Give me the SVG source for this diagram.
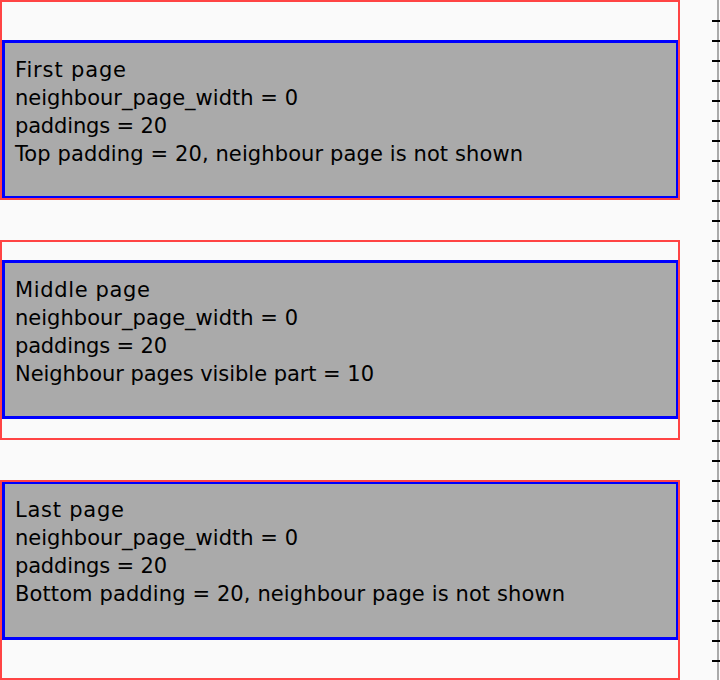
<svg xmlns="http://www.w3.org/2000/svg" width="720" height="680" viewBox="0 0 720 680">
  <style>
    .page { fill: none; stroke: #ff4444; stroke-width: 2; }
    .content { fill: #aaaaaa; stroke: #0000ff; stroke-width: 3; }
    .label { font-family: "DejaVu Sans", "Noto Sans", sans-serif; font-size: 21px; fill: #000000; }
  </style>
  <defs>
    <pattern id="ticks" x="0" y="0" width="8" height="20" patternUnits="userSpaceOnUse">
      <rect x="0" y="0" width="8" height="2" fill="#000000"/>
    </pattern>
  </defs>

  <rect x="0" y="0" width="720" height="680" fill="#fafafa"/>

  <!-- first page -->
  <g id="page-first">
    <rect class="content" x="3.5" y="41.5" width="674" height="156"/>
    <rect class="page" x="1" y="1" width="678" height="198"/>
    <text class="label">
      <tspan x="15" y="77" textLength="111" lengthAdjust="spacing">First page</tspan>
      <tspan x="15" y="105" textLength="283" lengthAdjust="spacing">neighbour_page_width = 0</tspan>
      <tspan x="15" y="133" textLength="152" lengthAdjust="spacing">paddings = 20</tspan>
      <tspan x="15" y="161" textLength="508" lengthAdjust="spacing">Top padding = 20, neighbour page is not shown</tspan>
    </text>
  </g>

  <!-- middle page -->
  <g id="page-middle">
    <rect class="content" x="3.5" y="261.5" width="674" height="156"/>
    <rect class="page" x="1" y="241" width="678" height="198"/>
    <text class="label">
      <tspan x="15" y="297" textLength="135" lengthAdjust="spacing">Middle page</tspan>
      <tspan x="15" y="325" textLength="283" lengthAdjust="spacing">neighbour_page_width = 0</tspan>
      <tspan x="15" y="353" textLength="152" lengthAdjust="spacing">paddings = 20</tspan>
      <tspan x="15" y="381" textLength="359" lengthAdjust="spacing">Neighbour pages visible part = 10</tspan>
    </text>
  </g>

  <!-- last page -->
  <g id="page-last">
    <rect class="content" x="3.5" y="482.5" width="674" height="156"/>
    <rect class="page" x="1" y="481" width="678" height="198"/>
    <text class="label">
      <tspan x="15" y="517" textLength="109" lengthAdjust="spacing">Last page</tspan>
      <tspan x="15" y="545" textLength="283" lengthAdjust="spacing">neighbour_page_width = 0</tspan>
      <tspan x="15" y="573" textLength="152" lengthAdjust="spacing">paddings = 20</tspan>
      <tspan x="15" y="601" textLength="550" lengthAdjust="spacing">Bottom padding = 20, neighbour page is not shown</tspan>
    </text>
  </g>

  <!-- ruler along the right edge -->
  <g id="ruler">
    <rect x="717" y="0" width="2" height="680" fill="#aaaaaa"/>
    <rect x="712" y="20" width="8" height="660" fill="url(#ticks)"/>
  </g>
</svg>
